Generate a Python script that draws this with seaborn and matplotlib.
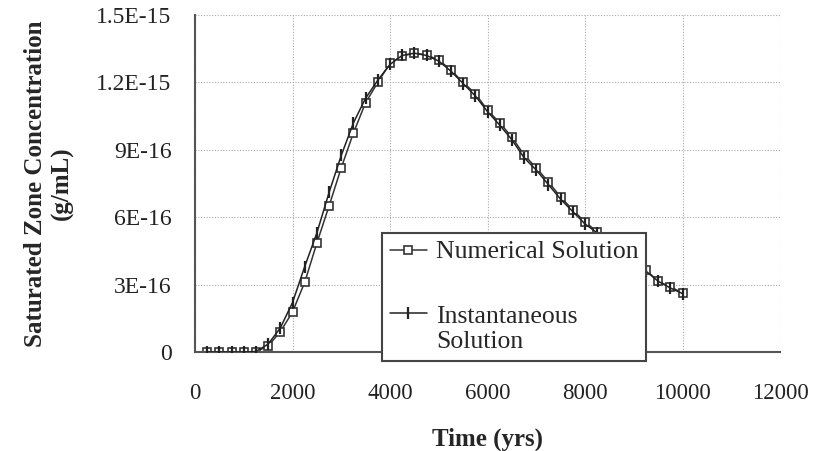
import numpy as np
import pandas as pd
import matplotlib
matplotlib.use("Agg")
import matplotlib.pyplot as plt
from matplotlib.legend_handler import HandlerLine2D
import seaborn as sns

time_yrs = [250, 500, 750, 1000, 1250, 1500, 1750, 2000, 2250, 2500,
            2750, 3000, 3250, 3500, 3750, 4000, 4250, 4500, 4750, 5000,
            5250, 5500, 5750, 6000, 6250, 6500, 6750, 7000, 7250, 7500,
            7750, 8000, 8250, 8500, 8750, 9000, 9250, 9500, 9750, 10000]

numerical = [0.0, 0.0, 0.0, 0.0, 0.01, 0.27, 0.90, 1.78, 3.10, 4.85,
             6.50, 8.20, 9.75, 11.10, 12.00, 12.85, 13.18, 13.30, 13.22, 13.00,
             12.55, 12.00, 11.50, 10.77, 10.20, 9.57, 8.77, 8.20, 7.57, 6.90,
             6.32, 5.79, 5.35, 4.90, 4.50, 4.10, 3.65, 3.15, 2.90, 2.63]

instantaneous = [0.0, 0.0, 0.0, 0.0, 0.02, 0.35, 1.07, 2.20, 3.80, 5.30,
                 7.10, 8.75, 10.20, 11.30, 12.10, 12.80, 13.20, 13.30, 13.20, 12.95,
                 12.50, 11.95, 11.40, 10.70, 10.10, 9.45, 8.65, 8.10, 7.45, 6.80,
                 6.25, 5.70, 5.30, 4.85, 4.45, 4.05, 3.60, 3.15, 2.85, 2.60]

scale = 1e-16
df = pd.DataFrame({
    "Time": time_yrs * 2,
    "Conc": [v * scale for v in numerical] + [v * scale for v in instantaneous],
    "Series": ["Numerical Solution"] * len(time_yrs) + ["Instantaneous\nSolution"] * len(time_yrs),
})

x_ticks = [0, 2000, 4000, 6000, 8000, 10000, 12000]
y_ticks = [0, 3e-16, 6e-16, 9e-16, 1.2e-15, 1.5e-15]
y_tick_labels = ["0", "3E-16", "6E-16", "9E-16", "1.2E-15", "1.5E-15"]

sns.set_theme(style="white")
plt.rcParams["font.family"] = ["Liberation Serif", "DejaVu Serif"]


class ShiftedHandler(HandlerLine2D):
    def __init__(self, dy=0.0, **kw):
        super().__init__(**kw)
        self.dy = dy

    def create_artists(self, legend, orig_handle, xdescent, ydescent, width,
                       height, fontsize, trans):
        arts = super().create_artists(legend, orig_handle, xdescent, ydescent,
                                      width, height, fontsize, trans)
        for a in arts:
            a.set_ydata(np.asarray(a.get_ydata(), dtype=float) + self.dy * fontsize)
        return arts


fig = plt.figure(figsize=(8.14, 4.51), dpi=100)
ax = fig.add_axes([195 / 814, 99 / 451, 585 / 814, 337 / 451])

sub_i = df[df["Series"] == "Instantaneous\nSolution"]
sub_n = df[df["Series"] == "Numerical Solution"]
sns.lineplot(data=sub_i, x="Time", y="Conc", ax=ax, color="#222222", lw=1.1,
             marker="|", markersize=8, markeredgewidth=1.6, markeredgecolor="#222222",
             label="Instantaneous\nSolution", zorder=3)
sns.lineplot(data=sub_n, x="Time", y="Conc", ax=ax, color="#333333", lw=1.1,
             marker="s", markersize=6.2, markerfacecolor="white", markeredgewidth=1.2,
             markeredgecolor="#333333", label="Numerical Solution", zorder=2)

ax.set_xlim(0, 12000)
ax.set_ylim(0, 1.5e-15)
ax.set_xticks(x_ticks)
ax.set_xticklabels([str(t) for t in x_ticks], fontsize=16.5)
ax.set_yticks(y_ticks)
ax.set_yticklabels(y_tick_labels, fontsize=17)
ax.grid(True, color="#aaaaaa", linestyle=(0, (1, 1.5)), linewidth=0.8)
for s in ["top", "right"]:
    ax.spines[s].set_visible(False)
for s in ["left", "bottom"]:
    ax.spines[s].set_color("#555555")
    ax.spines[s].set_linewidth(1.5)
ax.tick_params(axis="both", direction="inout", length=12, width=1.5, color="#555555",
               labelcolor="#222222")
ax.tick_params(axis="x", pad=16)
ax.tick_params(axis="y", pad=11)

ax.set_xlabel("Time (yrs)", fontsize=18, fontweight="bold", labelpad=17)
ax.set_ylabel("Saturated Zone Concentration\n(g/mL)", fontsize=18, fontweight="bold",
              labelpad=16)

handles, labels = ax.get_legend_handles_labels()
h_num = handles[labels.index("Numerical Solution")]
h_ins = handles[labels.index("Instantaneous\nSolution")]
leg = ax.legend([h_num, h_ins], ["Numerical Solution", "Instantaneous\nSolution"],
                loc="lower left", bbox_to_anchor=((382 - 195) / 585, -9 / 337), fontsize=18.5,
                frameon=True, fancybox=False, framealpha=1, edgecolor="#444444",
                labelspacing=1.65, handlelength=1.45, handletextpad=0.35,
                borderpad=0.3, borderaxespad=0,
                handler_map={h_ins: ShiftedHandler(dy=0.62)})
leg.get_frame().set_linewidth(1.5)
leg.set_zorder(10)

fig.savefig("out.png", dpi=100)
